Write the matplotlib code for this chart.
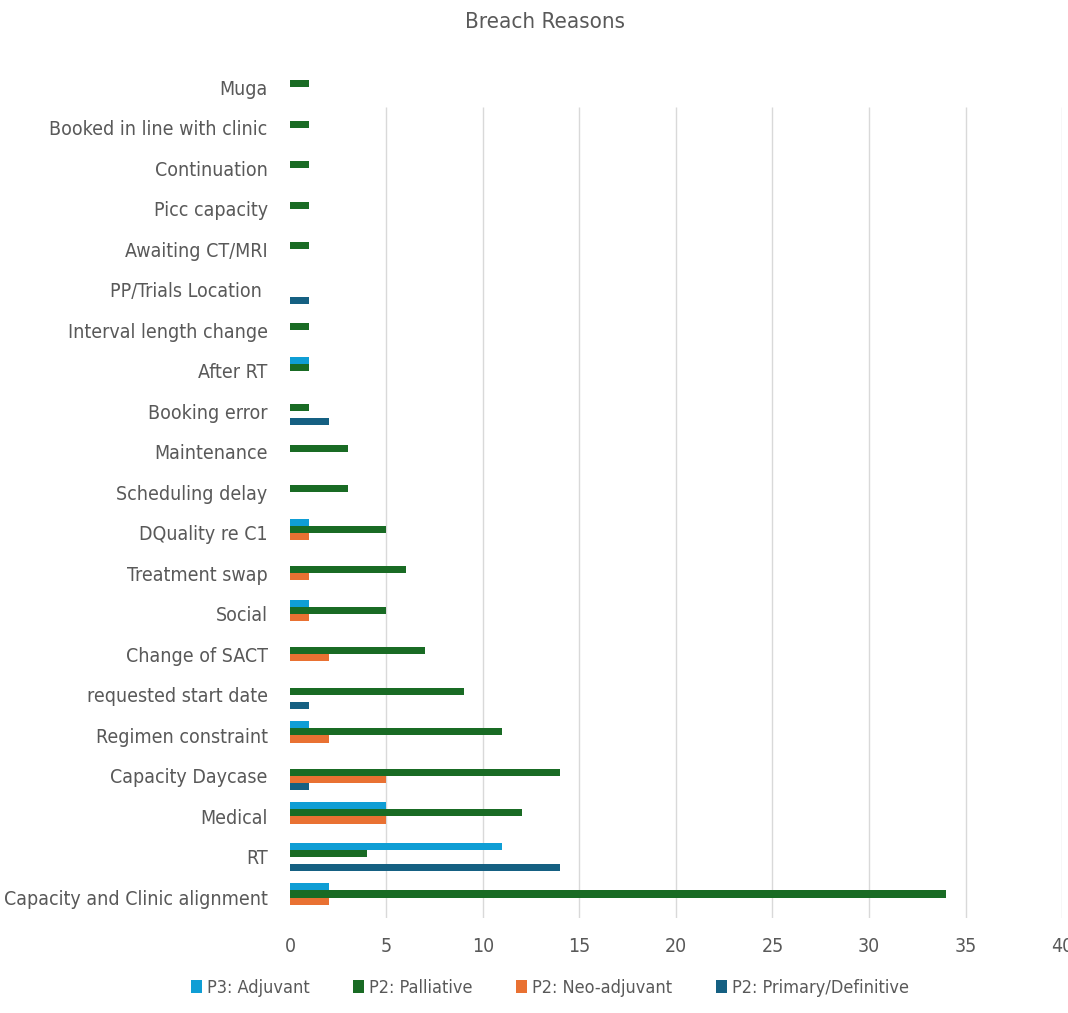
import numpy as np
import matplotlib.pyplot as plt
from matplotlib import font_manager

# prefer a condensed face for the long category names
narrow = [f for f in font_manager.fontManager.ttflist
          if f.stretch in ('condensed', 'semi-condensed', 'extra-condensed')
          or 'Narrow' in f.name or 'Condensed' in f.name]
if narrow:
    plt.rcParams['font.family'] = [narrow[0].name, 'DejaVu Sans']
    plt.rcParams['font.stretch'] = narrow[0].stretch
    lab_size = 14
else:
    plt.rcParams['font.family'] = ['DejaVu Sans']
    lab_size = 12.5

# categories listed bottom to top
reasons = ['Capacity and Clinic alignment', 'RT', 'Medical', 'Capacity Daycase',
           'Regimen constraint', 'requested start date', 'Change of SACT', 'Social',
           'Treatment swap', 'DQuality re C1', 'Scheduling delay', 'Maintenance',
           'Booking error', 'After RT', 'Interval length change', 'PP/Trials Location ',
           'Awaiting CT/MRI', 'Picc capacity', 'Continuation', 'Booked in line with clinic',
           'Muga']
adjuvant   = [2, 11, 5, 0, 1, 0, 0, 1, 0, 1, 0, 0, 0, 1, 0, 0, 0, 0, 0, 0, 0]
palliative = [34, 4, 12, 14, 11, 9, 7, 5, 6, 5, 3, 3, 1, 1, 1, 0, 1, 1, 1, 1, 1]
neoadj     = [2, 0, 5, 5, 2, 0, 2, 1, 1, 1, 0, 0, 0, 0, 0, 0, 0, 0, 0, 0, 0]
primary    = [0, 14, 0, 1, 0, 1, 0, 0, 0, 0, 0, 0, 2, 0, 0, 1, 0, 0, 0, 0, 0]

series = [('P3: Adjuvant', adjuvant, '#0F9ED5'),
          ('P2: Palliative', palliative, '#196B24'),
          ('P2: Neo-adjuvant', neoadj, '#E97132'),
          ('P2: Primary/Definitive', primary, '#156082')]

txt = '#595959'
fig = plt.figure(figsize=(10.68, 10.13), dpi=100)
ax = fig.add_axes([0.2715, 0.094, 0.7229, 0.84])

y = np.arange(len(reasons))
h = 0.175
for i, (name, vals, col) in enumerate(series):
    ax.barh(y + (1.5 - i) * h, vals, height=h, color=col, label=name, zorder=3)

ax.set_xlim(0, 40)
ax.set_ylim(-0.5, len(reasons) - 0.5)
ticks = np.arange(0, 45, 5)
ax.vlines(ticks[1:], -0.5, len(reasons) - 1.5, color='#d9d9d9', lw=1, zorder=1)
ax.set_xticks(ticks)
ax.set_yticks(y)
ax.set_yticklabels(reasons)
ax.tick_params(axis='both', length=0, labelsize=lab_size, colors=txt)
ax.tick_params(axis='x', pad=14)
ax.tick_params(axis='y', pad=16)
for s in ax.spines.values():
    s.set_visible(False)

fig.text(0.51, 0.978, 'Breach Reasons', ha='center', va='center', fontsize=lab_size + 2, color=txt)
fig.legend(loc='lower center', bbox_to_anchor=(0.515, 0.0), ncol=4, frameon=False,
           fontsize=lab_size - 1, labelcolor=txt, handlelength=0.6, handleheight=0.8,
           handletextpad=0.3, columnspacing=2.4)

fig.savefig('out.png', dpi=100, facecolor='white')
